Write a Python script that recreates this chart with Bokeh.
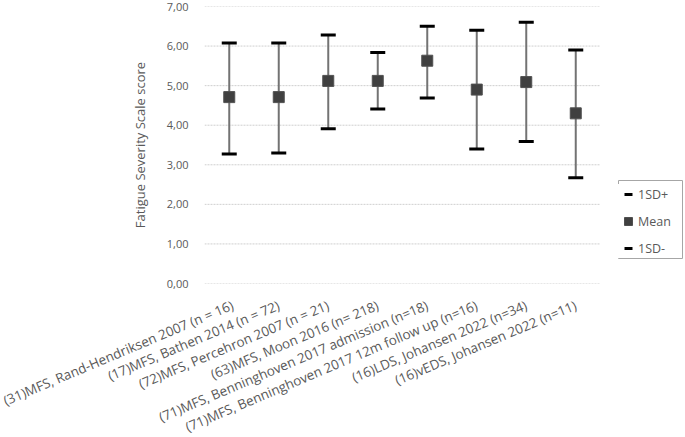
from bokeh.plotting import figure
from bokeh.models import FixedTicker, Legend, LegendItem, ColumnDataSource, Range1d, BoxAnnotation
from bokeh.embed import file_html
from bokeh.resources import INLINE

studies = [
    "(31)MFS, Rand-Hendriksen 2007 (n = 16)",
    "(17)MFS, Bathen 2014 (n = 72)",
    "(72)MFS, Percehron 2007 (n = 21)",
    "(63)MFS, Moon 2016 (n= 218)",
    "(71)MFS, Benninghoven 2017 admission (n=18)",
    "(71)MFS, Benninghoven 2017 12m follow up (n=16)",
    "(16)LDS, Johansen 2022 (n=34)",
    "(16)vEDS, Johansen 2022 (n=11)",
]
mean = [4.71, 4.71, 5.12, 5.12, 5.63, 4.90, 5.09, 4.30]
sd_plus = [6.08, 6.08, 6.28, 5.84, 6.50, 6.40, 6.60, 5.90]
sd_minus = [3.27, 3.30, 3.91, 4.41, 4.69, 3.40, 3.59, 2.67]
y_ticks = [0, 1, 2, 3, 4, 5, 6, 7]
y_tick_labels = ["0,00", "1,00", "2,00", "3,00", "4,00", "5,00", "6,00", "7,00"]

n = len(studies)
xpos = [i + 0.5 for i in range(n)]
src = ColumnDataSource(dict(x=xpos, mean=mean, hi=sd_plus, lo=sd_minus))

FONT = "Open Sans"
GRAY = "#595959"

FRAME_W, FRAME_H, CAT_W = 481, 277, 396
x_end = n * FRAME_W / CAT_W
y_end = y_ticks[-1]

# frame: categories occupy 0..n (CAT_W px); extra room on the right holds the legend
p = figure(
    frame_width=FRAME_W, frame_height=FRAME_H,
    x_range=Range1d(0, x_end),
    y_range=(0, y_end),
    output_backend="svg", toolbar_location=None,
    min_border_left=204, min_border_right=0, min_border_top=6, min_border_bottom=0,
)
p.outline_line_color = None
p.background_fill_color = "white"
p.xgrid.grid_line_color = None
p.ygrid.grid_line_color = None

# horizontal dotted gridlines spanning the category area only
p.segment(x0=[0] * len(y_ticks), x1=[n] * len(y_ticks), y0=y_ticks, y1=y_ticks,
          line_color="#cfcfcf", line_dash="2 1", line_width=1)

p.yaxis.ticker = FixedTicker(ticks=y_ticks)
p.yaxis.major_label_overrides = {t: l for t, l in zip(y_ticks, y_tick_labels)}
p.yaxis.axis_line_color = None
p.yaxis.major_tick_line_color = None
p.yaxis.minor_tick_line_color = None
p.yaxis.major_label_standoff = 10
p.yaxis.major_label_text_font = FONT
p.yaxis.major_label_text_font_size = "11px"
p.yaxis.major_label_text_color = GRAY
p.yaxis.axis_label = "Fatigue Severity Scale score"
p.yaxis.axis_label_text_font = FONT
p.yaxis.axis_label_text_font_size = "13px"
p.yaxis.axis_label_text_font_style = "normal"
p.yaxis.axis_label_text_color = GRAY
p.yaxis.axis_label_standoff = 15

p.xaxis.ticker = FixedTicker(ticks=xpos)
p.xaxis.major_label_overrides = {x: s for x, s in zip(xpos, studies)}
p.xaxis.axis_line_color = None
p.xaxis.major_tick_line_color = None
p.xaxis.minor_tick_line_color = None
p.xaxis.major_label_orientation = 0.40
p.xaxis.major_label_standoff = 15
p.xaxis.major_label_text_font = FONT
p.xaxis.major_label_text_font_size = "13.4px"
p.xaxis.major_label_text_color = GRAY

p.segment(x0="x", y0="lo", x1="x", y1="hi", source=src, line_color="#737373", line_width=2)
r_hi = p.scatter(x="x", y="hi", source=src, marker="dash", size=15, line_color="black", line_width=3)
r_mean = p.scatter(x="x", y="mean", source=src, marker="square", size=11,
                   fill_color="#404040", line_color="#505050")
r_lo = p.scatter(x="x", y="lo", source=src, marker="dash", size=15, line_color="black", line_width=3)

# legend (frame-relative pixel offsets) and its frame
LEG_X, LEG_Y, LEG_W, LEG_H = 414, 25, 64, 78
legend = Legend(
    items=[LegendItem(label="1SD+", renderers=[r_hi]),
           LegendItem(label="Mean", renderers=[r_mean]),
           LegendItem(label="1SD-", renderers=[r_lo])],
    location=(LEG_X, LEG_Y),
    border_line_color=None,
    label_text_font=FONT, label_text_font_size="12.5px", label_text_color=GRAY,
    glyph_width=20, glyph_height=20, label_standoff=0, label_width=40,
    padding=2, spacing=7, margin=0,
    background_fill_alpha=1,
)
p.add_layout(legend, "center")

# legend border: pixel offsets converted through the frame's scale
px_x = x_end / FRAME_W
px_y = y_end / FRAME_H
p.add_layout(BoxAnnotation(
    left=LEG_X * px_x, right=(LEG_X + LEG_W) * px_x,
    bottom=LEG_Y * px_y, top=(LEG_Y + LEG_H) * px_y,
    fill_alpha=0, line_color="#a6a6a6", line_width=1, line_alpha=1,
))

open("out.html", "w").write(file_html(p, INLINE))
